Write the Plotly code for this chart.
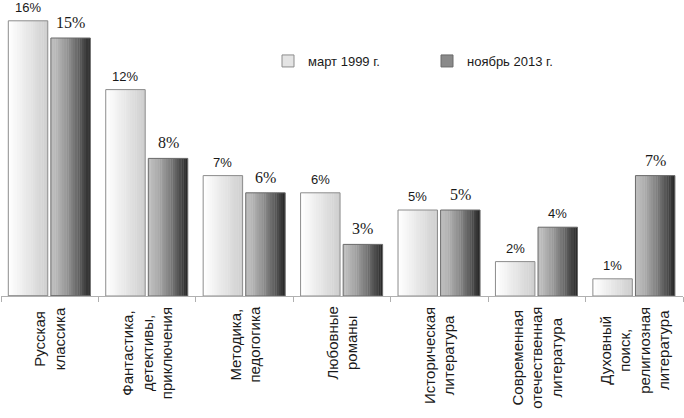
import plotly.graph_objects as go

categories = [
    "Русская<br>классика",
    "Фантастика,<br>детективы,<br>приключения",
    "Методика,<br>педогогика",
    "Любовные<br>романы",
    "Историческая<br>литература",
    "Современная<br>отечественная<br>литература",
    "Духовный<br>поиск,<br>религиозная<br>литература",
]
series_names = ["март 1999 г.", "ноябрь 2013 г."]
values_1999 = [16, 12, 7, 6, 5, 2, 1]
values_2013 = [15, 8, 6, 3, 5, 4, 7]

W, H = 684, 418
ML, MR, MT, MB = 1, 1, 0, 122
cat_px = (W - ML - MR) / len(categories)

SANS = "Arial, Liberation Sans, sans-serif"
SERIF = "Times New Roman, Liberation Serif, serif"

fig = go.Figure()

def hex2rgb(h):
    h = h.lstrip("#")
    return [int(h[i:i + 2], 16) for i in (0, 2, 4)]

def ramp(c0, c1, n, gamma=1.0):
    a, b = hex2rgb(c0), hex2rgb(c1)
    out = []
    for i in range(n):
        t = (i / (n - 1)) ** gamma
        out.append("rgb(%d,%d,%d)" % tuple(round(a[k] + (b[k] - a[k]) * t) for k in range(3)))
    return out

BAR_W = 0.405
series = [
    dict(name=series_names[0], vals=values_1999, off=-0.425, c0="#ffffff", c1="#cfcfcf",
         gamma=1.0, line="#8c8c8c", legend="#e4e4e4", fonts=[SANS] * 7, sizes=[13] * 7),
    dict(name=series_names[1], vals=values_2013, off=0.012, c0="#bdbdbd", c1="#2a2a2a",
         gamma=1.4, line="#6a6a6a", legend="#8a8a8a",
         fonts=[SERIF, SERIF, SERIF, SERIF, SERIF, SANS, SERIF],
         sizes=[16, 16, 16, 16, 16, 13, 16]),
]

N = 18
for s in series:
    cols = ramp(s["c0"], s["c1"], N, s["gamma"])
    sw = BAR_W / N
    for i, c in enumerate(cols):
        fig.add_trace(go.Bar(
            x=categories, y=s["vals"], offset=s["off"] + i * sw, width=sw * 1.15 if i < N - 1 else sw,
            marker=dict(color=c, line=dict(width=0)), showlegend=False, hoverinfo="skip"))
    # outline
    fig.add_trace(go.Bar(
        x=categories, y=s["vals"], offset=s["off"], width=BAR_W,
        marker=dict(color="rgba(0,0,0,0)", line=dict(color=s["line"], width=1)),
        showlegend=False, hoverinfo="skip"))
    # legend entry
    fig.add_trace(go.Bar(
        x=[categories[0]], y=[0], name=s["name"], offset=s["off"], width=BAR_W,
        marker=dict(color=s["legend"], line=dict(color=s["line"], width=1)),
        showlegend=True, hoverinfo="skip"))
    # value labels
    xs = (s["off"] + BAR_W / 2) * cat_px
    for cat, v, f, fs in zip(categories, s["vals"], s["fonts"], s["sizes"]):
        fig.add_annotation(x=cat, y=v, xref="x", yref="y", text=f"{v}%", showarrow=False,
                           xshift=xs, yshift=4 if f == SANS else 5, yanchor="bottom",
                           font=dict(family=f, size=fs, color="#1a1a1a"))

# category labels
for cat in categories:
    fig.add_annotation(x=cat, y=0, xref="x", yref="paper", text=cat, showarrow=False,
                       textangle=-90, yanchor="top", xanchor="center", yshift=-9, align="center",
                       font=dict(family=SANS, size=15, color="#1a1a1a"))

fig.update_layout(
    width=W, height=H,
    margin=dict(l=ML, r=MR, t=MT, b=MB),
    paper_bgcolor="white", plot_bgcolor="white",
    barmode="overlay",
    showlegend=True,
    legend=dict(orientation="h", x=(268 - ML) / (W - ML - MR), y=1 - 46 / (H - MT - MB),
                xanchor="left", yanchor="top", bgcolor="rgba(0,0,0,0)",
                font=dict(family=SANS, size=13, color="#1a1a1a"),
                entrywidth=114, entrywidthmode="pixels", traceorder="normal"),
    xaxis=dict(type="category", showticklabels=False, showline=True, linecolor="#b0b0b0",
               linewidth=1, ticks="outside", tickson="boundaries", ticklen=5, tickcolor="#b0b0b0",
               showgrid=False, zeroline=False, fixedrange=True),
    yaxis=dict(range=[0, (H - MT - MB) / 17.2], visible=False, showgrid=False, zeroline=False,
               fixedrange=True),
    font=dict(family=SANS),
)

fig.write_html("out.html", config={"displayModeBar": False},
               post_script="document.body.style.margin='0';")
